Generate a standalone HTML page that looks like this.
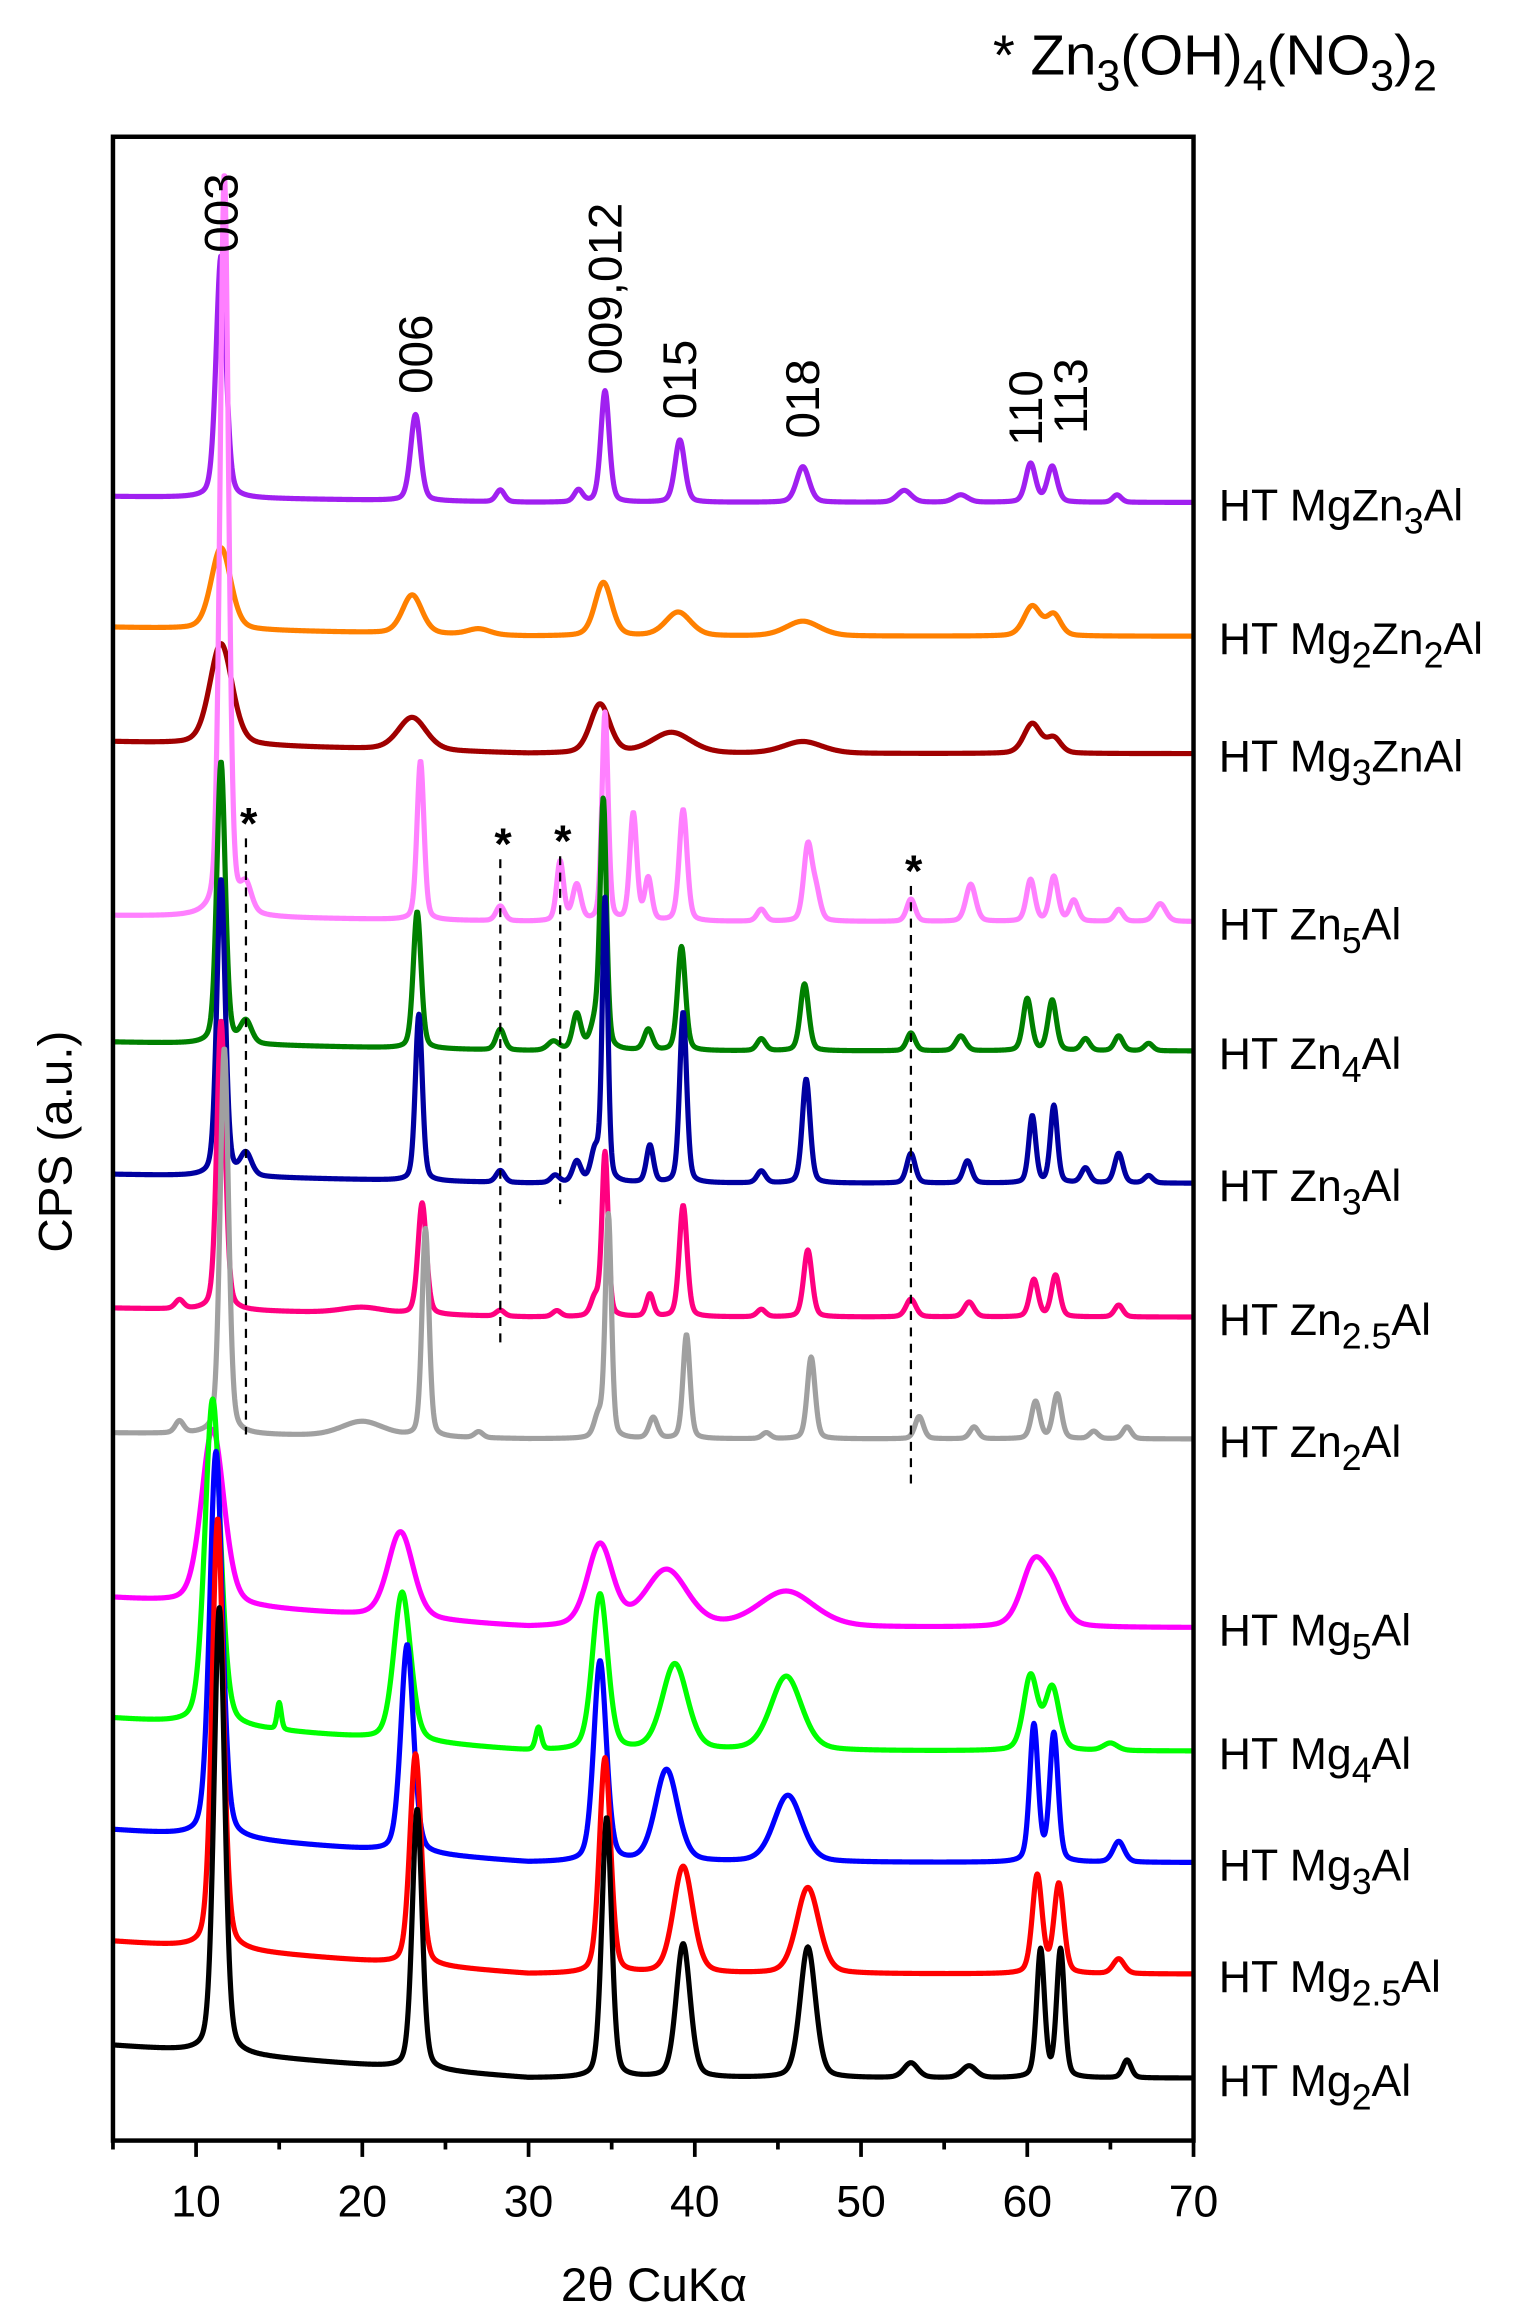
<!DOCTYPE html>
<html><head><meta charset="utf-8"><style>
html,body{margin:0;padding:0;background:#fff;}
svg{display:block;font-family:"Liberation Sans",Arial,sans-serif;}
</style></head><body>
<svg id="chart" width="1522" height="2313" viewBox="0 0 1024 1556" preserveAspectRatio="none" xmlns="http://www.w3.org/2000/svg">
<rect x="0" y="0" width="1024" height="1556" fill="#fff"/>
<g id="traces"></g>
<g id="annot"></g>
<rect x="76" y="92" width="727" height="1348" fill="none" stroke="#000" stroke-width="3"/>
<g id="axis"></g>
<text x="440" y="1548" font-size="32" text-anchor="middle">2θ CuKα</text>
<text transform="translate(48,768) rotate(-90)" font-size="32" text-anchor="middle">CPS (a.u.)</text>
<text x="668" y="50" font-size="38">* Zn<tspan font-size="29" dy="11">3</tspan><tspan dy="-11">(OH)</tspan><tspan font-size="29" dy="11">4</tspan><tspan dy="-11">(NO</tspan><tspan font-size="29" dy="11">3</tspan><tspan dy="-11">)</tspan><tspan font-size="29" dy="11">2</tspan></text>
</svg>
<script>
const xTicks = [10,20,30,40,50,60,70];
const seriesNames = ["HT MgZn3Al","HT Mg2Zn2Al","HT Mg3ZnAl","HT Zn5Al","HT Zn4Al","HT Zn3Al","HT Zn2.5Al","HT Zn2Al","HT Mg5Al","HT Mg4Al","HT Mg3Al","HT Mg2.5Al","HT Mg2Al"];
const seriesOffsets = [338,428,507,620,707,796,886,968,1095,1178,1253,1328,1398];
const seriesRise = [4,6,8,4,6,6,6,4,20,22,22,22,22];
const peaksMgZn3Al = [[11.5,163,0.35],[23.2,58,0.35],[28.3,8,0.3],[33,8,0.3],[34.6,75,0.3],[39.1,42,0.35],[46.5,24,0.45],[52.6,8,0.5],[56,5,0.5],[60.2,26,0.35],[61.5,24,0.35],[65.4,5,0.3]];
const peaksMg2Zn2Al = [[11.5,55,0.7],[23,26,0.7],[27,4,0.8],[34.5,36,0.6],[39,16,0.9],[46.5,10,1.2],[60.3,20,0.6],[61.6,14,0.5]];
const peaksMg3ZnAl = [[11.5,68,0.8],[23,22,1.0],[34.3,33,0.7],[38.6,14,1.4],[46.5,8,1.4],[60.3,20,0.6],[61.6,10,0.5]];
const peaksZn5Al = [[11.7,500,0.3],[13,18,0.4],[23.5,107,0.25],[28.3,10,0.3],[31.9,40,0.25],[32.9,24,0.3],[34.6,140,0.22],[36.3,72,0.25],[37.2,28,0.25],[39.3,75,0.28],[44,8,0.3],[46.8,50,0.3],[47.3,18,0.3],[53,15,0.3],[56.6,25,0.35],[60.2,28,0.3],[61.6,30,0.3],[62.8,14,0.3],[65.5,8,0.3],[68,12,0.4]];
const peaksZn4Al = [[11.5,190,0.3],[13,15,0.4],[23.3,92,0.28],[28.3,14,0.3],[31.5,6,0.4],[32.9,24,0.3],[34.1,20,0.4],[34.5,160,0.22],[37.2,14,0.3],[39.2,70,0.28],[44,8,0.3],[46.6,45,0.3],[53,12,0.3],[56,10,0.35],[60,35,0.3],[61.5,34,0.3],[63.5,8,0.3],[65.5,10,0.3],[67.3,5,0.3]];
const peaksZn3Al = [[11.5,200,0.3],[13,15,0.4],[23.4,112,0.25],[28.3,8,0.3],[31.6,5,0.3],[32.9,14,0.3],[34,20,0.3],[34.6,190,0.2],[37.3,25,0.25],[39.3,115,0.25],[44,8,0.3],[46.7,70,0.28],[53,20,0.3],[56.4,15,0.3],[60.3,45,0.25],[61.6,52,0.25],[63.5,10,0.3],[65.5,20,0.3],[67.3,5,0.3]];
const peaksZn2p5Al = [[11.5,195,0.3],[9,6,0.3],[20,4,1.5],[23.6,75,0.3],[28.3,4,0.3],[31.7,4,0.3],[34.6,110,0.22],[34,12,0.3],[37.3,15,0.25],[39.3,75,0.28],[44,5,0.3],[46.8,45,0.3],[53,12,0.35],[56.5,10,0.35],[60.4,25,0.3],[61.7,28,0.3],[65.5,8,0.3]];
const peaksZn2Al = [[11.7,260,0.3],[9,8,0.3],[20,10,1.5],[23.8,140,0.25],[27,4,0.3],[34.2,14,0.3],[34.8,150,0.22],[37.5,14,0.3],[39.5,70,0.25],[44.3,4,0.3],[47,55,0.28],[53.5,15,0.3],[56.8,8,0.3],[60.5,25,0.3],[61.8,30,0.3],[64,5,0.3],[66,8,0.3]];
const peaksMg5Al = [[11,118,0.8],[22.3,58,0.9],[34.3,55,0.9],[38.3,38,1.5],[45.5,24,2.0],[60.4,42,0.9],[61.6,20,0.8]];
const peaksMg4Al = [[11,220,0.55],[15,18,0.15],[22.4,100,0.6],[30.6,15,0.2],[34.3,105,0.55],[38.8,58,0.9],[45.5,50,1.1],[60.2,50,0.5],[61.5,42,0.5],[65,5,0.5]];
const peaksMg3Al = [[11.2,260,0.45],[22.7,140,0.45],[34.3,135,0.45],[38.3,62,0.8],[45.6,45,1.0],[60.4,92,0.3],[61.6,86,0.3],[65.5,14,0.4]];
const peaksMg2p5Al = [[11.3,290,0.4],[23.2,142,0.4],[34.6,145,0.4],[39.3,72,0.7],[46.8,58,0.8],[60.6,66,0.35],[61.9,60,0.35],[65.5,10,0.4]];
const peaksMg2Al = [[11.4,300,0.38],[23.3,175,0.35],[34.7,175,0.35],[39.3,90,0.5],[46.8,88,0.55],[53,10,0.5],[56.5,8,0.5],[60.8,86,0.28],[62,86,0.28],[66,12,0.3]];
const seriesPeaks = [peaksMgZn3Al,peaksMg2Zn2Al,peaksMg3ZnAl,peaksZn5Al,peaksZn4Al,peaksZn3Al,peaksZn2p5Al,peaksZn2Al,peaksMg5Al,peaksMg4Al,peaksMg3Al,peaksMg2p5Al,peaksMg2Al];
const seriesColors = ["#a020f0","#ff8000","#a00000","#ff80ff","#008000","#0000a0","#ff0080","#a0a0a0","#ff00ff","#00ff00","#0000ff","#ff0000","#000000"];
const legendMain = ["HT MgZn","HT Mg","HT Mg","HT Zn","HT Zn","HT Zn","HT Zn","HT Zn","HT Mg","HT Mg","HT Mg","HT Mg","HT Mg"];
const legendSubs = [[["3","Al"]],[["2","Zn"],["2","Al"]],[["3","ZnAl"]],[["5","Al"]],[["4","Al"]],[["3","Al"]],[["2.5","Al"]],[["2","Al"]],[["5","Al"]],[["4","Al"]],[["3","Al"]],[["2.5","Al"]],[["2","Al"]]];
const hklLabels = ["003","006","009,012","015","018","110","113"];
const hklPos = [11.5,23.2,34.6,39.1,46.5,59.9,62.6];
const hklBottom = [170,265,252,282,295,300,292];
const starPos = [13,28.3,31.9,53];
const starTop = [548,562,560,580];
const starBottom = [965,905,810,1000];

const NS="http://www.w3.org/2000/svg";
const xMin=5,xMax=70,pxL=76,pxR=803;
function xs(v){return pxL+(v-xMin)/(xMax-xMin)*(pxR-pxL);}
function ys(off,v){return off-v;}
function mk(t,a){const e=document.createElementNS(NS,t);for(const k in a)e.setAttribute(k,a[k]);return e;}
function shape(u){return 0.3/(1+u*u)+0.7*Math.exp(-0.693*u*u);}

const tg=document.getElementById('traces');
seriesNames.forEach((nm,i)=>{
  let d="";
  for(let x=5;x<=70.001;x+=0.04){
    let v=seriesRise[i]*Math.max(0,(30-x)/25);
    for(const p of seriesPeaks[i]){v+=p[1]*shape((x-p[0])/p[2]);}
    d+=(d?"L":"M")+xs(x).toFixed(2)+","+ys(seriesOffsets[i],v).toFixed(2);
  }
  const path=mk('path',{d:d,fill:'none',stroke:seriesColors[i],'stroke-width':3.5,'stroke-linejoin':'round'});
  
  
  tg.appendChild(path);
  const t=mk('text',{x:820,y:seriesOffsets[i]+12,'font-size':30});
  
  
  let h=legendMain[i];
  legendSubs[i].forEach(s=>{h+='<tspan font-size="24" dy="9">'+s[0]+'</tspan><tspan dy="-9">'+s[1]+'</tspan>';});
  t.innerHTML=h;
  tg.appendChild(t);
});

const an=document.getElementById('annot');
hklLabels.forEach((l,i)=>{
  const x=xs(hklPos[i])+11;
  const t=mk('text',{transform:'translate('+x+','+hklBottom[i]+') rotate(-90)','font-size':32});
  
  
  t.textContent=l;an.appendChild(t);
});
starPos.forEach((s,i)=>{
  const x=xs(s);
  const ln=mk('line',{x1:x,x2:x,y1:starTop[i]+16,y2:starBottom[i],stroke:'#000','stroke-width':1.5,'stroke-dasharray':'6,5'});
  
  
  an.appendChild(ln);
  const t=mk('text',{x:x-4,y:starTop[i]+16,'font-size':30,'font-weight':'bold'});
  
  
  t.textContent='*';an.appendChild(t);
});

const ax=document.getElementById('axis');
for(let v=5;v<=70;v+=5){
  const major=xTicks.includes(v);
  const tk=mk('line',{x1:xs(v),x2:xs(v),y1:1440,y2:1440+(major?11:6),stroke:'#000','stroke-width':2.5});
  
  
  ax.appendChild(tk);
}
xTicks.forEach(v=>{
  const t=mk('text',{x:xs(v),y:1491,'font-size':30,'text-anchor':'middle'});
  
  
  t.textContent=v;ax.appendChild(t);
});
</script>
</body></html>
